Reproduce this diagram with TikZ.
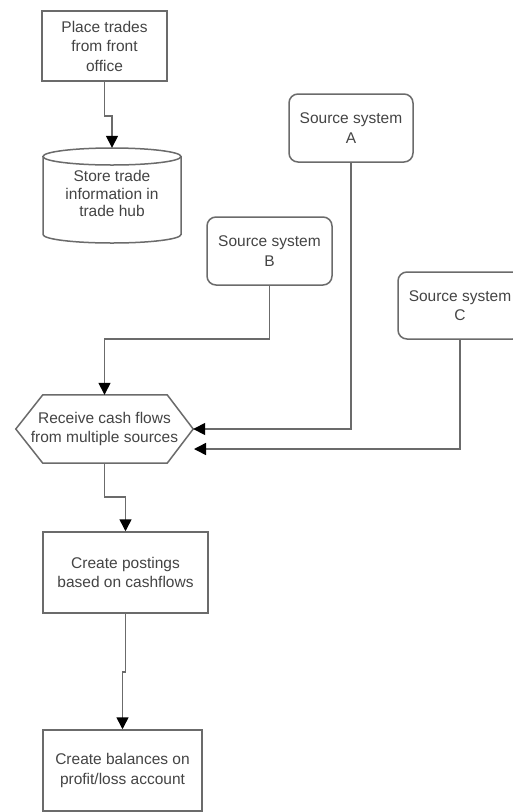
\documentclass[tikz,border=0pt]{standalone}
\usepackage{fontspec}
\setmainfont{Liberation Sans}
\usetikzlibrary{arrows.meta}
\definecolor{edgec}{HTML}{6B6B6B}
\definecolor{txtc}{HTML}{444444}
\begin{document}
\begin{tikzpicture}[x=1pt,y=-1pt,
  lbl/.style={align=center, inner sep=0pt, text=txtc, font=\fontsize{15.5}{19.5}\selectfont},
  box/.style={lbl, draw=edgec, line width=1.5pt, fill=white},
  srcbox/.style={box, rounded corners=9pt},
  shapeline/.style={draw=edgec, line width=1.5pt},
  flow/.style={draw=edgec, line width=1.5pt, -{Triangle[length=12pt,width=12pt,color=black]}}
]
\useasboundingbox[fill=white] (0,0) rectangle (513,812);

% nodes
\node[box, minimum width=125pt, minimum height=70pt] (place) at (104.5,46) {Place trades\\from front\\office};

% cylinder
\fill[white] (43,156.5) -- (43,234.5) arc[start angle=180,end angle=360,x radius=69pt,y radius=8.5pt] -- (181,156.5) -- cycle;
\draw[shapeline] (43,156.5) -- (43,234.5) arc[start angle=180,end angle=360,x radius=69pt,y radius=8.5pt] -- (181,156.5);
\draw[shapeline] (112,156.5) ellipse[x radius=69pt, y radius=8.5pt];
\node[lbl, minimum width=138pt, minimum height=95pt] (store) at (112,195.5) {\raisebox{-2.5pt}{\begin{tabular}{@{}c@{}}Store trade\\[-2pt]information in\\[-2pt]trade hub\end{tabular}}};

\node[srcbox, minimum width=124pt, minimum height=68pt] (srcA) at (351,128) {Source system\\A};
\node[srcbox, minimum width=125pt, minimum height=68pt] (srcB) at (269.5,251) {Source system\\B};
\node[srcbox, minimum width=124pt, minimum height=67pt] (srcC) at (460,305.5) {Source system\\C};

% hexagon
\node[lbl, minimum width=177pt, minimum height=68pt] (recv) at (104.5,429) {Receive cash flows\\from multiple sources};
\draw[shapeline] (recv.west) -- ([xshift=27pt]recv.north west) -- ([xshift=-26pt]recv.north east) -- (recv.east) -- ([xshift=-26pt]recv.south east) -- ([xshift=27pt]recv.south west) -- cycle;

\node[box, minimum width=165pt, minimum height=81pt] (post) at (125.5,572.5) {Create postings\\based on cashflows};
\node[box, minimum width=159pt, minimum height=81pt] (bal) at (122.5,770.5) {Create balances on\\profit/loss account};

\coordinate (cin) at (194,449);

% connectors
\draw[flow] (place.south) -- ++(0,34) -| (store.north);
\draw[flow] (srcB.south) -- ++(0,53) -| (recv.north);
\draw[flow] (srcA.south) |- (recv.east);
\draw[flow] (srcC.south) |- (cin);
\draw[flow] (recv.south) -- ++(0,34) -| (post.north);
\draw[flow] (post.south) -- ++(0,58) -| (bal.north);
\end{tikzpicture}
\end{document}
